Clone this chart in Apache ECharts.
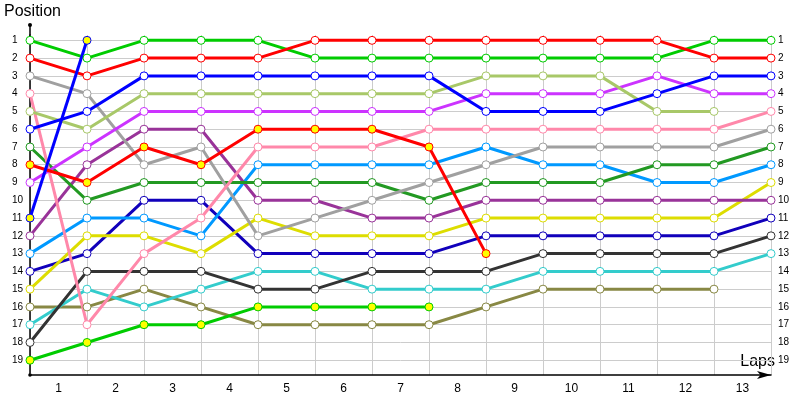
<!DOCTYPE html>
<html><head><meta charset="utf-8">
<script src="https://cdn.jsdelivr.net/npm/echarts@6/dist/echarts.min.js"></script>
<style>html,body{margin:0;padding:0;background:#fff}#c{width:800px;height:400px}</style>
</head><body><div id="c"></div>
<script>
// ---- data ----
const laps = ['1','2','3','4','5','6','7','8','9','10','11','12','13'];
const positions = [1,2,3,4,5,6,7,8,9,10,11,12,13,14,15,16,17,18,19];
// position at each lap boundary (index 0..13); missing = retired
const greenCar      = [1,2,1,1,1,2,2,2,2,2,2,2,1,1];
const redCar        = [2,3,2,2,2,1,1,1,1,1,1,1,2,2];
const grayCar       = [3,4,8,7,12,11,10,9,8,7,7,7,7,6];
const pinkCar       = [4,17,13,11,7,7,7,6,6,6,6,6,6,5];
const limeCar       = [5,6,4,4,4,4,4,4,3,3,3,5,5];
const blueCar       = [6,5,3,3,3,3,3,3,5,5,5,4,3,3];
const darkGreenCar  = [7,10,9,9,9,9,9,10,9,9,9,8,8,7];
const violetCar     = [9,7,5,5,5,5,5,5,4,4,4,3,4,4];
const purpleCar     = [12,8,6,6,10,10,11,11,10,10,10,10,10,10];
const skyCar        = [13,11,11,12,8,8,8,8,7,8,8,9,9,8];
const navyCar       = [14,13,10,10,13,13,13,13,12,12,12,12,12,11];
const yellowCar     = [15,12,12,13,11,12,12,12,11,11,11,11,11,9];
const oliveCar      = [16,16,15,16,17,17,17,17,16,15,15,15,15];
const cyanCar       = [17,15,16,15,14,14,15,15,15,14,14,14,14,13];
const blackCar      = [18,14,14,14,15,15,14,14,14,13,13,13,13,12];
const greenCar2     = [19,18,17,17,16,16,16,16];
const redCar2       = [8,9,7,8,6,6,6,7,13];
const blueCar2      = [11,1];

// ---- styles ----
const cars = [
  {d: oliveCar, c:'#888844'},
  {d: cyanCar, c:'#33cccc'},
  {d: blackCar, c:'#333333'},
  {d: navyCar, c:'#1100bb'},
  {d: yellowCar, c:'#dddd00'},
  {d: skyCar, c:'#0099ff'},
  {d: purpleCar, c:'#993399'},
  {d: darkGreenCar, c:'#229922'},
  {d: grayCar, c:'#a0a0a0'},
  {d: pinkCar, c:'#ff88aa'},
  {d: violetCar, c:'#cc33ff'},
  {d: limeCar, c:'#a8c868'},
  {d: blueCar, c:'#0000ff'},
  {d: greenCar, c:'#00cc00'},
  {d: redCar, c:'#ff0000'},
  {d: greenCar2, c:'#00cc00', f:'#ffff00'},
  {d: redCar2, c:'#ff0000', f:'#ffff00'},
  {d: blueCar2, c:'#0000ff', f:'#ffff00'}
];

const series = cars.map(s => ({
  type:'line',
  xAxisIndex:0, yAxisIndex:0,
  data: s.d.map((v,i)=>[i,v]),
  symbol:'circle', symbolSize:8, showSymbol:true,
  lineStyle:{color:s.c, width:3},
  itemStyle:{color:s.f||'#ffffff', borderColor:s.c, borderWidth:1},
  emphasis:{disabled:true},
  silent:true
}));

const chart = echarts.init(document.getElementById('c'), null, {renderer:'canvas'});
const ff = 'Liberation Sans, Arial, sans-serif';
chart.setOption({
  animation:false,
  backgroundColor:'#fff',
  textStyle:{fontFamily:ff},
  grid:{left:30, right:29, top:35, bottom:25, containLabel:false},
  xAxis:[
    {type:'value', min:0, max:13, interval:1,
     axisLabel:{show:false}, axisTick:{show:false},
     splitLine:{show:true, lineStyle:{color:'#cccccc', width:1}},
     axisLine:{show:true, lineStyle:{color:'#000', width:1.5}, symbol:['none','arrow'], symbolSize:[6,14]}},
    {type:'category', data:laps, boundaryGap:true, position:'bottom',
     axisLine:{show:false}, axisTick:{show:false}, splitLine:{show:false},
     axisLabel:{fontSize:12, color:'#000', margin:8, fontFamily:ff}}
  ],
  yAxis:[
    {type:'value', inverse:true, min:0.7, max:19.83,
     axisLabel:{customValues:positions, fontSize:10, color:'#000', align:'left', margin:18, fontFamily:ff},
     axisTick:{show:false, customValues:positions},
     splitLine:{show:true, lineStyle:{color:'#cccccc', width:1}},
     axisLine:{show:true, lineStyle:{color:'#000', width:1.5}}},
    {type:'value', inverse:true, min:0.7, max:19.83, position:'right',
     axisLabel:{customValues:positions, fontSize:10, color:'#000', align:'left', margin:7, fontFamily:ff},
     axisTick:{show:false, customValues:positions},
     splitLine:{show:false},
     axisLine:{show:false}}
  ],
  graphic:[
    {type:'line', shape:{x1:30,y1:25,x2:30,y2:36}, style:{stroke:'#000', lineWidth:1.5}},
    {type:'circle', shape:{cx:30,cy:25,r:2}, style:{fill:'#000'}},
    {type:'circle', shape:{cx:30,cy:375,r:1.8}, style:{fill:'#000'}},
    {type:'text', left:4, top:4, style:{text:'Position', fontSize:16, fill:'#000', fontFamily:ff}},
    {type:'text', right:25, top:354, style:{text:'Laps', fontSize:16, fill:'#000', fontFamily:ff}}
  ],
  series: series
});
</script></body></html>
